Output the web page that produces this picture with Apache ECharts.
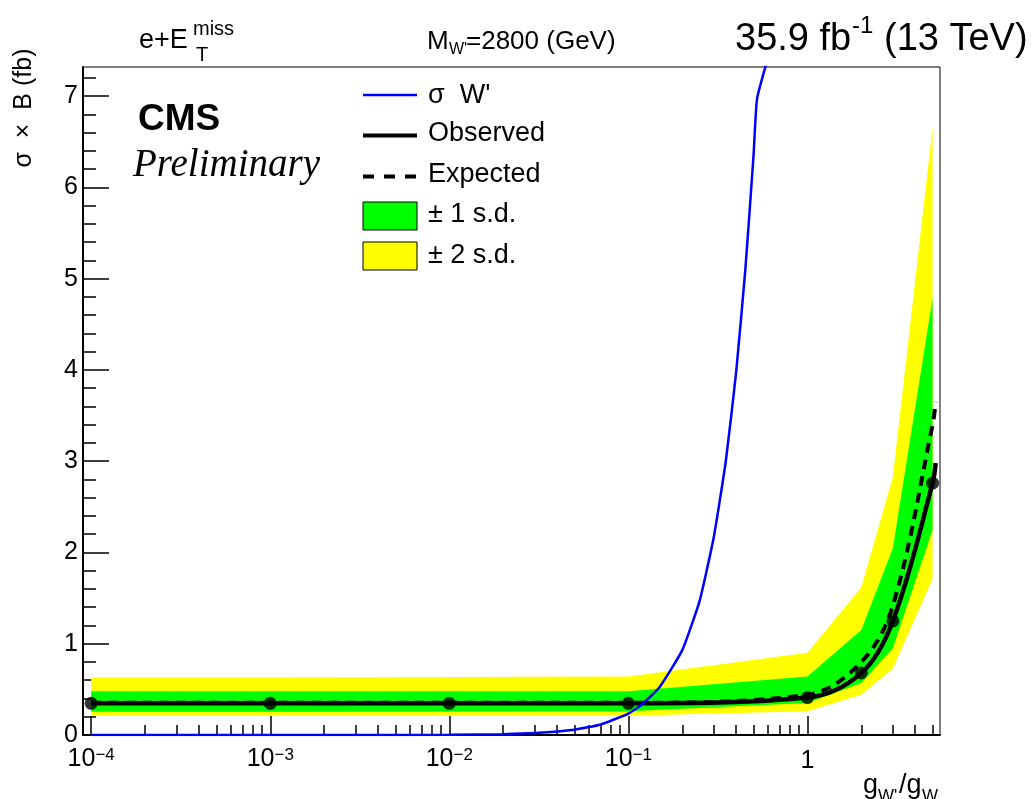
<!DOCTYPE html>
<html>
<head>
<meta charset="utf-8">
<script src="https://cdn.jsdelivr.net/npm/echarts@6/dist/echarts.min.js"></script>
<style>
  html, body { margin: 0; padding: 0; background: #ffffff; }
  #chart { width: 1035px; height: 799px; }
</style>
</head>
<body>
<div id="chart"></div>
<script>
// Coupling ratios g_W'/g_W where the limit was computed
const gPoints   = [1e-4, 1e-3, 1e-2, 1e-1, 1, 2, 3, 5];
// 95% CL limits on sigma x B (fb)
const observed  = [0.347, 0.347, 0.347, 0.347, 0.41, 0.68, 1.25, 2.76];
const expected  = [0.353, 0.353, 0.353, 0.353, 0.44, 0.80, 1.42, 3.40];
// the interpolated curves run slightly past the last point
const gCurveEnd     = 5.2;
const observedEnd   = 2.98;
const expectedEnd   = 3.65;
// expected-limit uncertainty bands
const band2Low  = [0.21, 0.21, 0.21, 0.21, 0.26, 0.44, 0.73, 1.71];
const band1Low  = [0.255, 0.255, 0.258, 0.26, 0.35, 0.57, 0.95, 2.25];
const band1High = [0.48, 0.48, 0.48, 0.48, 0.64, 1.15, 2.05, 4.79];
const band2High = [0.63, 0.63, 0.635, 0.64, 0.90, 1.62, 2.83, 6.66];
// theoretical W' cross section vs coupling
const gTheory     = [1e-4, 1e-3, 3e-3, 1e-2, 0.02, 0.03, 0.05, 0.07, 0.1, 0.12, 0.15, 0.2, 0.25, 0.3, 0.35, 0.4, 0.45, 0.5, 0.523, 0.6];
const sigmaTheory = [0.0000002, 0.00002, 0.0002, 0.0023, 0.0094, 0.021, 0.058, 0.115, 0.235, 0.34, 0.53, 0.93, 1.47, 2.17, 3.0, 3.98, 5.1, 6.35, 6.97, 7.41];
// axis ranges and tick labels
const xRange = [9e-5, 5.5];
const yRange = [0, 7.32];
const xMajorTicks = [1e-4, 1e-3, 1e-2, 1e-1, 1];
const xMajorLabels = ['10|−4', '10|−3', '10|−2', '10|−1', '1'];
const yMajorTicks = [0, 1, 2, 3, 4, 5, 6, 7];

const FONT = '"Liberation Sans", Arial, Helvetica, sans-serif';
const SERIF = '"Liberation Serif", "Times New Roman", serif';
const L = Math.log10;

// the x axis is laid out in log10(g) so that ticks can be placed freely
const xMinor = [];
for (let e = -5; e <= 0; e++) {
  for (let m = 2; m <= 9; m++) {
    const v = m * Math.pow(10, e);
    if (v > xRange[0] && v < xRange[1]) xMinor.push(L(v));
  }
}
const yMinor = [];
for (let k = 1; k * 0.2 < yRange[1]; k++) {
  if (k % 5 !== 0) yMinor.push(Math.round(k * 2) / 10);
}

const pairs = (xs, ys) => xs.map((x, i) => [L(x), ys[i]]);

function bandSeries(low, high, color, z) {
  return {
    type: 'custom',
    coordinateSystem: 'cartesian2d',
    xAxisIndex: 0, yAxisIndex: 0,
    silent: true,
    z: z,
    data: [[L(gPoints[0]), low[0]]],
    renderItem: function (params, api) {
      const pts = [];
      for (let i = 0; i < gPoints.length; i++) pts.push(api.coord([L(gPoints[i]), high[i]]));
      for (let i = gPoints.length - 1; i >= 0; i--) pts.push(api.coord([L(gPoints[i]), low[i]]));
      return { type: 'polygon', shape: { points: pts }, style: { fill: color, stroke: null } };
    }
  };
}

function txt(x, y, text, size, extra) {
  return {
    type: 'text', x: x, y: y,
    style: Object.assign({ text: text, fontSize: size, fontFamily: FONT, fill: '#000', align: 'left', verticalAlign: 'middle' }, extra || {})
  };
}

const chart = echarts.init(document.getElementById('chart'), null, { renderer: 'canvas' });

const tickLabelRich = {
  b: { fontSize: 25, fontFamily: FONT, color: '#000', verticalAlign: 'bottom', lineHeight: 25 },
  s: { fontSize: 17, fontFamily: FONT, color: '#000', verticalAlign: 'top', lineHeight: 17, padding: [0, 0, 12, 0] },
  one: { fontSize: 25, fontFamily: FONT, color: '#000', lineHeight: 25, padding: [4, 0, 0, 0] }
};

const option = {
  backgroundColor: '#ffffff',
  animation: false,
  grid: {
    left: 83, top: 67, right: 95, bottom: 64,
    show: true, borderColor: '#000', borderWidth: 1, backgroundColor: 'transparent'
  },
  xAxis: [
    {
      type: 'value', min: L(xRange[0]), max: L(xRange[1]), position: 'bottom',
      axisLine: { show: true, onZero: false, lineStyle: { color: '#000', width: 2 } },
      axisTick: { show: true, inside: true, length: 19, customValues: xMajorTicks.map(L), lineStyle: { color: '#000', width: 1.5 } },
      axisLabel: {
        show: true, customValues: xMajorTicks.map(L), margin: 12,
        formatter: function (v) {
          const i = xMajorTicks.findIndex(t => Math.abs(L(t) - v) < 1e-6);
          if (i < 0) return '';
          const parts = xMajorLabels[i].split('|');
          return parts.length === 2 ? '{b|' + parts[0] + '}{s|' + parts[1] + '}' : '{one|' + parts[0] + '}';
        },
        rich: tickLabelRich
      },
      splitLine: { show: false }
    },
    {
      type: 'value', min: L(xRange[0]), max: L(xRange[1]), position: 'bottom',
      axisLine: { show: false, onZero: false },
      axisTick: { show: true, inside: true, length: 10, customValues: xMinor, lineStyle: { color: '#000', width: 1.5 } },
      axisLabel: { show: false },
      splitLine: { show: false }
    }
  ],
  yAxis: [
    {
      type: 'value', min: yRange[0], max: yRange[1], position: 'left',
      axisLine: { show: true, onZero: false, lineStyle: { color: '#000', width: 2 } },
      axisTick: { show: true, inside: true, length: 26, customValues: yMajorTicks, lineStyle: { color: '#000', width: 1.5 } },
      axisLabel: { show: true, customValues: yMajorTicks, margin: 5, fontSize: 25, fontFamily: FONT, color: '#000' },
      splitLine: { show: false }
    },
    {
      type: 'value', min: yRange[0], max: yRange[1], position: 'left',
      axisLine: { show: false, onZero: false },
      axisTick: { show: true, inside: true, length: 13, customValues: yMinor, lineStyle: { color: '#000', width: 1.5 } },
      axisLabel: { show: false },
      splitLine: { show: false }
    }
  ],
  series: [
    bandSeries(band2Low, band2High, '#ffff00', 1),
    bandSeries(band1Low, band1High, '#00ff00', 2),
    {
      name: 'Expected', type: 'line', z: 4,
      data: pairs(gPoints, expected).concat([[L(gCurveEnd), expectedEnd]]),
      smooth: 0.35, showSymbol: false, symbol: 'none',
      lineStyle: { color: '#000', width: 4, type: [10, 7] }
    },
    {
      name: 'Observed', type: 'line', z: 5,
      data: pairs(gPoints, observed).concat([[L(gCurveEnd), observedEnd]]),
      smooth: 0.35, showSymbol: false, symbol: 'none',
      lineStyle: { color: '#000', width: 4.5 }
    },
    {
      name: 'Observed points', type: 'scatter', z: 6,
      data: pairs(gPoints, observed),
      symbol: 'circle', symbolSize: 13,
      itemStyle: { color: '#000' }
    },
    {
      name: "σ W'", type: 'line', z: 7,
      data: pairs(gTheory, sigmaTheory),
      smooth: 0.15, showSymbol: false, symbol: 'none',
      lineStyle: { color: '#0000ff', width: 2.5 }
    }
  ],
  graphic: {
    elements: [
      // axis titles
      { type: 'text', x: 24, y: 108, rotation: Math.PI / 2,
        style: { text: 'σ  ×  B (fb)', fontSize: 25, fontFamily: FONT, fill: '#000', align: 'center', verticalAlign: 'middle' } },
      txt(863, 786, 'g', 27),
      txt(878, 796, "W'", 17),
      txt(899, 786, '/g', 27),
      txt(922, 796, 'W', 17),
      // header
      txt(139, 41, 'e+E', 27),
      txt(193, 29, 'miss', 20),
      txt(196, 55, 'T', 20),
      txt(427, 42, 'M', 26),
      txt(449, 50, "W'", 16),
      txt(466, 42, '=2800 (GeV)', 26),
      txt(735, 40, '35.9 fb', 38),
      txt(852, 26, '-1', 24),
      txt(884, 40, '(13 TeV)', 38),
      // experiment label
      txt(138, 120, 'CMS', 37, { fontWeight: 'bold' }),
      txt(133, 166, 'Preliminary', 39, { fontStyle: 'italic', fontFamily: SERIF }),
      // legend
      { type: 'line', shape: { x1: 363, y1: 95, x2: 417, y2: 95 }, style: { stroke: '#0000ff', lineWidth: 2.5 } },
      txt(428, 96, "σ  W'", 27),
      { type: 'line', shape: { x1: 363, y1: 135.5, x2: 417, y2: 135.5 }, style: { stroke: '#000', lineWidth: 4 } },
      txt(428, 134, 'Observed', 27),
      { type: 'line', shape: { x1: 363, y1: 176.5, x2: 417, y2: 176.5 }, style: { stroke: '#000', lineWidth: 4, lineDash: [11, 10] } },
      txt(428, 175, 'Expected', 27),
      { type: 'rect', shape: { x: 363, y: 202, width: 54, height: 28 }, style: { fill: '#00ff00', stroke: '#000', lineWidth: 1 } },
      txt(428, 215, '± 1 s.d.', 27),
      { type: 'rect', shape: { x: 363, y: 242, width: 54, height: 28 }, style: { fill: '#ffff00', stroke: '#000', lineWidth: 1 } },
      txt(428, 256, '± 2 s.d.', 27)
    ]
  }
};

chart.setOption(option);
</script>
</body>
</html>
